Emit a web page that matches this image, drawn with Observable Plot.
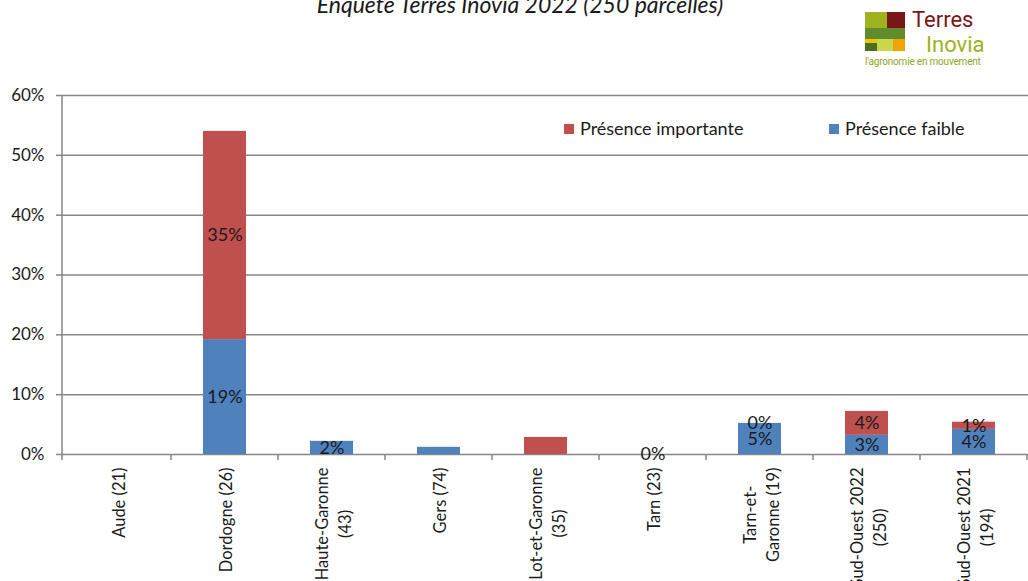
<!DOCTYPE html>
<html><head><meta charset="utf-8">
<script src="https://cdn.jsdelivr.net/npm/d3@7"></script>
<script src="https://cdn.jsdelivr.net/npm/@observablehq/plot@0.6"></script>
<style>
body{margin:0;background:#fff;overflow:hidden;}
#wrap{position:relative;width:1028px;height:581px;overflow:hidden;font-family:Lato,sans-serif;background:#fff;}
#chart{position:absolute;left:0;top:0;}
#title{position:absolute;left:0;width:1040px;top:-7px;text-align:center;font-style:italic;font-size:23px;line-height:1;color:#1a1a1a;white-space:nowrap;}
.lg{position:absolute;font-size:18px;line-height:1;color:#1a1a1a;white-space:nowrap;}
.sw{position:absolute;width:10px;height:10px;}
.lb{position:absolute;}
.lt{position:absolute;font-family:Roboto,sans-serif;line-height:1;white-space:nowrap;}
</style></head><body>
<div id="wrap">
  <div id="chart"></div>
  <div id="title">Enquête Terres Inovia 2022 (250 parcelles)</div>
  <div id="legend"></div>
  <div id="logo">
    <div class="lb" style="left:865px;top:12px;width:22px;height:16px;background:#9db21c"></div>
    <div class="lb" style="left:887px;top:12px;width:18px;height:16px;background:#7a1518"></div>
    <div class="lb" style="left:865px;top:28px;width:40px;height:11px;background:#5f8c2c"></div>
    <div class="lb" style="left:865px;top:39px;width:12px;height:4px;background:#f2c500"></div>
    <div class="lb" style="left:865px;top:43px;width:12px;height:8px;background:#4d6e1f"></div>
    <div class="lb" style="left:877px;top:39px;width:16px;height:12px;background:#c8d84a"></div>
    <div class="lb" style="left:893px;top:39px;width:12px;height:12px;background:#f0a500"></div>
    <div class="lt" style="left:912px;top:9px;font-size:22px;color:#7a1518">Terres</div>
    <div class="lt" style="left:926px;top:34px;font-size:22px;color:#9db21c">Inovia</div>
    <div class="lt" style="left:865px;top:57px;font-size:10px;color:#8fa51a;letter-spacing:-0.2px">l'agronomie en mouvement</div>
  </div>
</div>
<script>
const categories = ["Aude (21)", "Dordogne (26)", "Haute-Garonne\n(43)", "Gers (74)", "Lot-et-Garonne\n(35)", "Tarn (23)", "Tarn-et-\nGaronne (19)", "Sud-Ouest 2022\n(250)", "Sud-Ouest 2021\n(194)"];
const series = ["Présence faible", "Présence importante"];
const faible = [0, 19.2, 2.2, 1.2, 0, 0, 5.2, 3.2, 4.2];
const importante = [0, 34.8, 0, 0, 2.85, 0, 0, 4.0, 1.2];
const faibleLabels = ["", "19%", "2%", "", "", "0%", "5%", "3%", "4%"];
const importanteLabels = ["", "35%", "", "", "", "", "0%", "4%", "1%"];
const yTicks = [0, 10, 20, 30, 40, 50, 60];
const colors = ["#4F81BD", "#C0504D"];
const legendOrder = ["Présence importante", "Présence faible"];

const gray = "#878787";
const ink = "#1a1a1a";

const rows = [];
categories.forEach((c, i) => {
  rows.push({cat: c, serie: series[0], value: faible[i], label: faibleLabels[i]});
  rows.push({cat: c, serie: series[1], value: importante[i], label: importanteLabels[i]});
});

const ctx = document.createElement("canvas").getContext("2d");
const catFont = 16.5;
ctx.font = `${catFont}px Lato`;
const catMarks = categories.map(c => {
  const w = d3.max(c.split("\n"), l => ctx.measureText(l).width);
  return Plot.text([c], {
    x: d => d, text: d => d, frameAnchor: "bottom", rotate: -90,
    textAnchor: "middle", lineAnchor: "middle", lineHeight: 1.4,
    dy: 13 + w / 2, fontSize: catFont, fill: ink
  });
});

function axisLines(index, scales, values, dims) {
  const g = d3.create("svg:g").attr("stroke", gray).attr("stroke-width", 1.5).attr("fill", "none");
  const sx = scales.x;
  const step = sx.step ? sx.step() : (dims.width - dims.marginLeft - dims.marginRight) / categories.length;
  const bw = sx.bandwidth ? sx.bandwidth() : step * 0.4;
  const y0 = scales.y(0);
  g.append("line").attr("x1", dims.marginLeft).attr("x2", dims.marginLeft)
    .attr("y1", dims.marginTop).attr("y2", y0 + 6);
  categories.forEach(c => {
    const xr = sx(c) + bw / 2 + step / 2;
    g.append("line").attr("x1", xr).attr("x2", xr).attr("y1", y0).attr("y2", y0 + 6);
  });
  return g.node();
}

const chart = Plot.plot({
  width: 1028, height: 581,
  marginLeft: 62, marginRight: 0, marginTop: 95, marginBottom: 127,
  style: {fontFamily: "Lato, sans-serif", background: "white", overflow: "visible"},
  x: {domain: categories, paddingInner: 0.6, paddingOuter: 0.3, axis: null},
  y: {domain: [0, 60], axis: null},
  color: {domain: series, range: colors},
  marks: [
    Plot.gridY(yTicks, {stroke: gray, strokeOpacity: 1, strokeWidth: 1.5}),
    Plot.barY(rows, {x: "cat", y: "value", fill: "serie"}),
    Plot.text(rows, Plot.stackY({x: "cat", y: "value", z: "serie", text: "label", fontSize: 18, fill: ink})),
    axisLines,
    Plot.axisY(yTicks, {tickFormat: d => d + "%", tickSize: 6, tickPadding: 12, fontSize: 17, stroke: gray, strokeWidth: 1.5, fill: ink, label: null}),
    ...catMarks
  ]
});
document.getElementById("chart").appendChild(chart);

const lg = document.getElementById("legend");
const legPos = [{sw: 564, tx: 580}, {sw: 829, tx: 845}];
legendOrder.forEach((s, i) => {
  const sw = document.createElement("div");
  sw.className = "sw";
  sw.style.left = legPos[i].sw + "px"; sw.style.top = "124px";
  sw.style.background = colors[series.indexOf(s)];
  lg.appendChild(sw);
  const t = document.createElement("div");
  t.className = "lg";
  t.style.left = legPos[i].tx + "px"; t.style.top = "119px";
  t.textContent = s;
  lg.appendChild(t);
});
</script>
</body></html>
